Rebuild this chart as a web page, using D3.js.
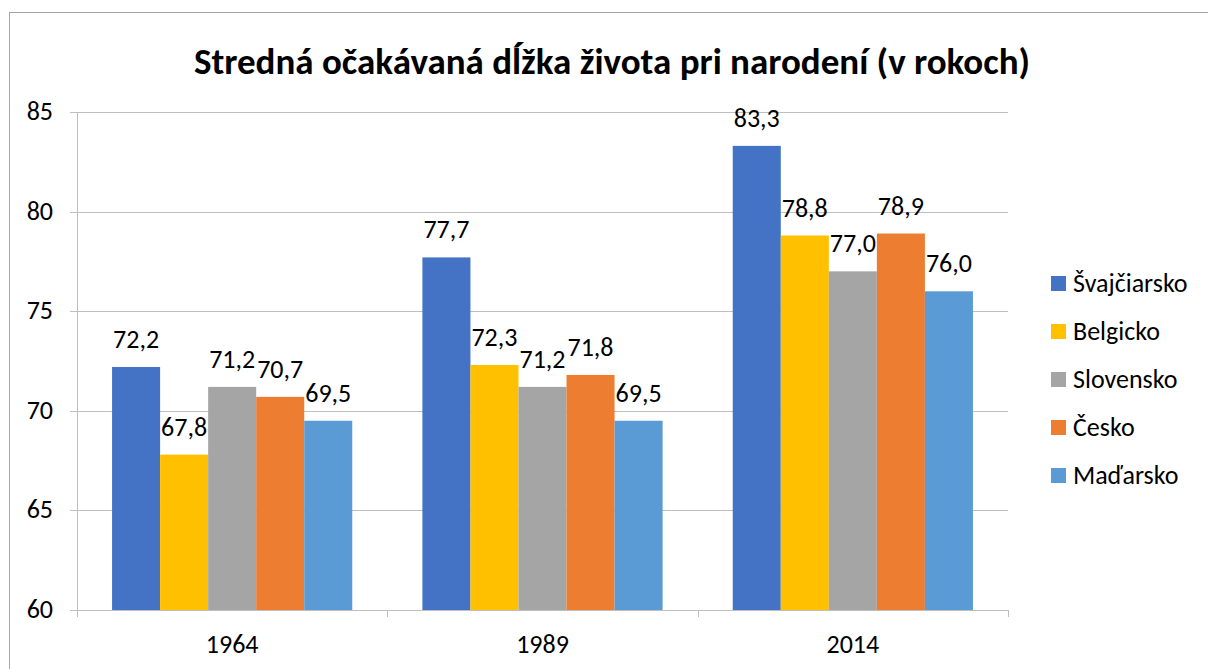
<!DOCTYPE html>
<html><head><meta charset="utf-8">
<script src="https://cdn.jsdelivr.net/npm/d3@7/dist/d3.min.js"></script>
<style>
html,body{margin:0;padding:0;background:#fff;}
svg{display:block;font-family:Carlito,Calibri,Lato,"Open Sans",sans-serif;}
</style></head><body>
<svg id="c" width="1208" height="669"></svg>
<script>
const title = "Stredná očakávaná dĺžka života pri narodení (v rokoch)";
const categories = ["1964","1989","2014"];
const seriesNames = ["Švajčiarsko","Belgicko","Slovensko","Česko","Maďarsko"];
const seriesColors = ["#4472C4","#FFC000","#A5A5A5","#ED7D31","#5B9BD5"];
const svajciarsko = [72.2,77.7,83.3];
const belgicko = [67.8,72.3,78.8];
const slovensko = [71.2,71.2,77.0];
const cesko = [70.7,71.8,78.9];
const madarsko = [69.5,69.5,76.0];
const seriesValues = [svajciarsko,belgicko,slovensko,cesko,madarsko];
const yTicks = [60,65,70,75,80,85];

const svg = d3.select("#c");
svg.append("rect").attr("x",9.5).attr("y",12.5).attr("width",1240).attr("height",700)
  .attr("fill","#fff").attr("stroke","#a6a6a6").attr("stroke-width",1);

const L=77, R=1008, T=112, B=610;
const x0 = d3.scaleBand().domain(categories).range([L,R]).paddingInner(0).paddingOuter(0);
const x1 = d3.scaleBand().domain(seriesNames).range([0,x0.bandwidth()]).paddingInner(0).paddingOuter(0.73);
const y = d3.scaleLinear().domain([60,85]).range([B,T]);

// gridlines
svg.append("g").selectAll("line").data(yTicks).join("line")
  .attr("x1",70).attr("x2",R).attr("y1",d=>Math.round(y(d))+0.5).attr("y2",d=>Math.round(y(d))+0.5)
  .attr("stroke","#bfbfbf").attr("stroke-width",1);
// y axis line
svg.append("line").attr("x1",L+0.5).attr("x2",L+0.5).attr("y1",T).attr("y2",B+7).attr("stroke","#bfbfbf");
// category ticks
const bounds = categories.map(c=>x0(c)).concat([R]);
svg.append("g").selectAll("line").data(bounds.slice(1)).join("line")
  .attr("x1",d=>Math.round(d)+0.5).attr("x2",d=>Math.round(d)+0.5).attr("y1",B).attr("y2",B+7).attr("stroke","#bfbfbf");

const FS = 26;
// y labels
svg.append("g").selectAll("text").data(yTicks).join("text")
  .attr("x",53).attr("y",d=>y(d)+8).attr("text-anchor","end")
  .attr("font-size",FS).attr("fill","#000").text(d=>d);
// x labels
svg.append("g").selectAll("text").data(categories).join("text")
  .attr("x",d=>x0(d)+x0.bandwidth()/2).attr("y",B+43).attr("text-anchor","middle")
  .attr("font-size",FS).attr("fill","#000").text(d=>d);

// bars
const fmt = v => v.toFixed(1).replace(".",",");
seriesNames.forEach((s,si)=>{
  const g = svg.append("g");
  g.selectAll("rect").data(seriesValues[si]).join("rect")
    .attr("x",(d,i)=>x0(categories[i])+x1(s))
    .attr("width",x1.bandwidth())
    .attr("y",d=>y(d)).attr("height",d=>B-y(d))
    .attr("fill",seriesColors[si]);
  g.selectAll("text").data(seriesValues[si]).join("text")
    .attr("x",(d,i)=>x0(categories[i])+x1(s)+x1.bandwidth()/2)
    .attr("y",d=>y(d)-19)
    .attr("text-anchor","middle").attr("font-size",FS).attr("fill","#000")
    .text(fmt);
});

// title
svg.append("text").attr("x",612).attr("y",74).attr("text-anchor","middle")
  .attr("font-size",37).attr("font-weight","bold").attr("fill","#000").text(title);

// legend
const lg = svg.append("g");
seriesNames.forEach((s,i)=>{
  const cy = 283 + i*48;
  lg.append("rect").attr("x",1051).attr("y",cy-7).attr("width",15).attr("height",15).attr("fill",seriesColors[i]);
  lg.append("text").attr("x",1073).attr("y",cy+9).attr("font-size",FS).attr("fill","#000").text(s);
});
</script></body></html>
